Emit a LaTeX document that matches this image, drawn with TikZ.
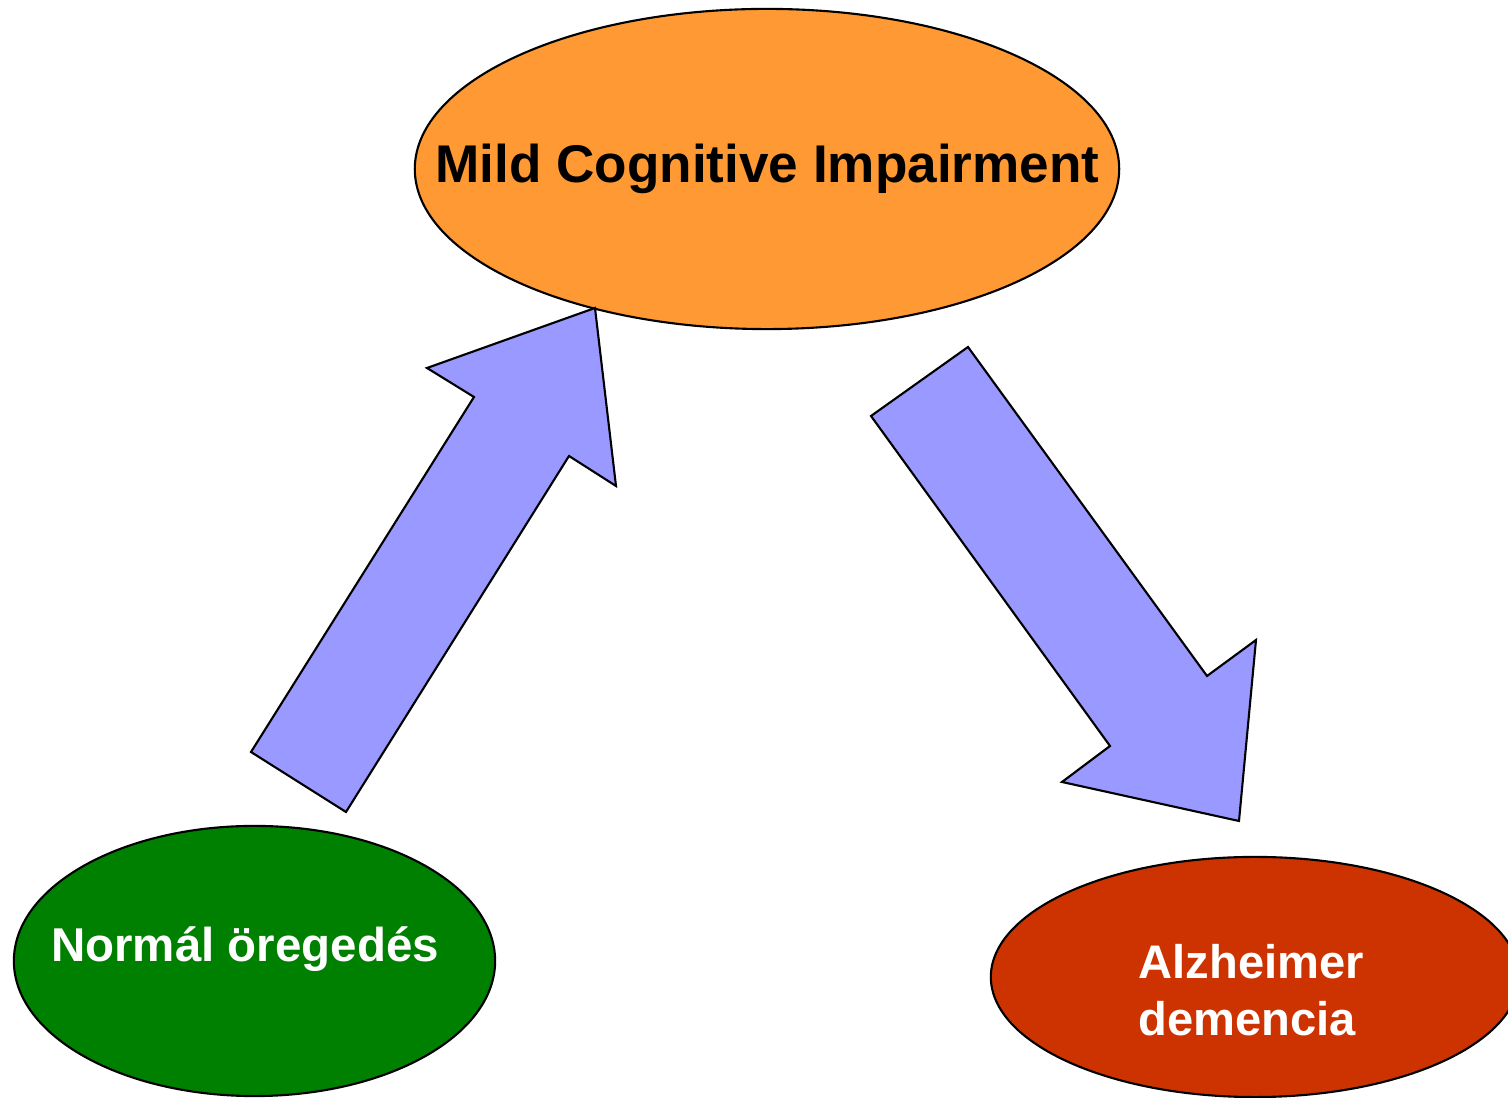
\documentclass[tikz,border=0pt]{standalone}
\usepackage{fontspec}
\setmainfont{Liberation Sans}
\usetikzlibrary{shapes.geometric}
\definecolor{mciorange}{HTML}{FF9933}
\definecolor{normgreen}{HTML}{008000}
\definecolor{alzred}{HTML}{CC3300}
\definecolor{arrowblue}{HTML}{9999FF}
\tikzset{
  oval/.style={ellipse, draw=black, line width=0.6pt, inner sep=0pt},
  lbl/.style={font=\bfseries, inner sep=0pt, anchor=base},
  blockarrow/.style={draw=black, line width=0.6pt, fill=arrowblue, line join=miter}
}
\begin{document}
\begin{tikzpicture}[x=0.01cm,y=-0.01cm]
\useasboundingbox (0,0) rectangle (1508,1098);
\clip (0,0) rectangle (1508,1098);
% ovals
\node[oval, fill=mciorange, minimum width=7.04cm, minimum height=3.2cm] (mci) at (767,169) {};
\node[oval, fill=normgreen, minimum width=4.81cm, minimum height=2.70cm] (norm) at (254.5,961) {};
\node[oval, fill=alzred, minimum width=5.28cm, minimum height=2.40cm] (alz) at (1255,977) {};
% labels
\node[lbl, font=\bfseries\fontsize{15.1}{18}\selectfont] (mcit) at (767.5,183) {Mild Cognitive Impairment};
\node[lbl, text=white, font=\bfseries\fontsize{13.5}{16.2}\selectfont] (normt) at (245,962) {Normál öregedés};
\node[lbl, text=white, font=\bfseries\fontsize{13.4}{16.4}\selectfont, align=left, anchor=base west] (alzt) at (1138,1036) {Alzheimer\\demencia};
% block arrows
\draw[blockarrow] (251,752) -- (474,397) -- (427,368) -- (595,308) -- (616,486) -- (569,456) -- (346,812) -- cycle;
\draw[blockarrow] (871,416) -- (968,347) -- (1207,676) -- (1256,640) -- (1239,821) -- (1062,782) -- (1110,746) -- cycle;
\end{tikzpicture}
\end{document}
